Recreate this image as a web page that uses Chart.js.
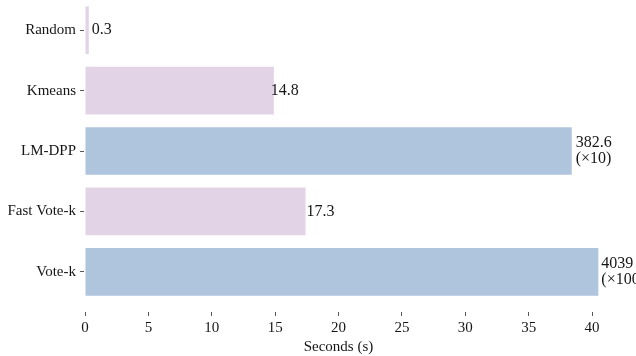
<!DOCTYPE html>
<html>
<head>
<meta charset="utf-8">
<script src="https://cdn.jsdelivr.net/npm/chart.js@4/dist/chart.umd.min.js"></script>
<style>
  html, body { margin: 0; padding: 0; background: #fff; }
  #wrap { width: 636px; height: 356px; position: relative; }
</style>
</head>
<body>
<div id="wrap"><canvas id="c" width="636" height="356"></canvas></div>
<script>
const categories = ['Random', 'Kmeans', 'LM-DPP', 'Fast Vote-k', 'Vote-k'];
const seconds = [0.3, 14.9, 38.4, 17.4, 40.5];
const valueLabels = [['0.3'], ['14.8'], ['382.6', '(\u00d710)'], ['17.3'], ['4039', '(\u00d7100)']];
const xTicks = [0, 5, 10, 15, 20, 25, 30, 35, 40];
const xTitle = 'Seconds (s)';

const PINK = '#e3d3e7';
const BLUE = '#afc4dd';
const barColors = [PINK, PINK, BLUE, PINK, BLUE];
const SERIF = '"Liberation Serif", "Times New Roman", serif';
const TEXT = '#161616';

const labelPlugin = {
  id: 'valueLabels',
  afterDatasetsDraw(chart) {
    const ctx = chart.ctx;
    const meta = chart.getDatasetMeta(0);
    const nudge = [3, -3, 4, 1, 3];
    ctx.save();
    ctx.font = '16px ' + SERIF;
    ctx.fillStyle = TEXT;
    ctx.textAlign = 'left';
    ctx.textBaseline = 'middle';
    meta.data.forEach((bar, i) => {
      const lines = valueLabels[i];
      const lh = 15.5;
      const y0 = bar.y - (lines.length - 1) * lh / 2;
      lines.forEach((t, k) => ctx.fillText(t, bar.x + nudge[i], y0 + k * lh));
    });
    ctx.restore();
  }
};

new Chart(document.getElementById('c'), {
  type: 'bar',
  data: {
    labels: categories,
    datasets: [{
      data: seconds,
      backgroundColor: barColors,
      borderWidth: 0,
      barPercentage: 0.79,
      categoryPercentage: 1.0,
      clip: false
    }]
  },
  options: {
    indexAxis: 'y',
    responsive: false,
    animation: false,
    devicePixelRatio: 1,
    layout: { padding: { top: -1, right: 44, left: 0, bottom: 0 } },
    plugins: { legend: { display: false }, tooltip: { enabled: false } },
    scales: {
      x: {
        type: 'linear',
        min: 0,
        max: 40,
        afterBuildTicks: s => { s.ticks = xTicks.map(v => ({ value: v })); },
        afterFit: s => { s.height = 54; s.paddingLeft = 0; s.paddingRight = 0; },
        border: { display: false },
        grid: {
          display: true,
          drawOnChartArea: false,
          drawTicks: true,
          tickLength: 14,
          tickColor: '#555',
          tickWidth: 1,
          tickBorderDash: [0, 10, 4, 100]
        },
        ticks: {
          padding: 3,
          color: TEXT,
          font: { family: SERIF, size: 15 },
          maxRotation: 0
        },
        title: {
          display: true,
          text: xTitle,
          color: TEXT,
          font: { family: SERIF, size: 15 },
          padding: { top: 0, bottom: 0 }
        }
      },
      y: {
        type: 'category',
        afterFit: s => { s.width = 85; s.paddingTop = 0; s.paddingBottom = 0; },
        border: { display: false },
        grid: {
          display: true,
          offset: false,
          drawOnChartArea: false,
          drawTicks: true,
          tickLength: 5,
          tickColor: '#555',
          tickWidth: 1,
          tickBorderDash: [4, 10]
        },
        ticks: {
          padding: 4,
          color: TEXT,
          font: { family: SERIF, size: 15 }
        }
      }
    }
  },
  plugins: [labelPlugin]
});
</script>
</body>
</html>
